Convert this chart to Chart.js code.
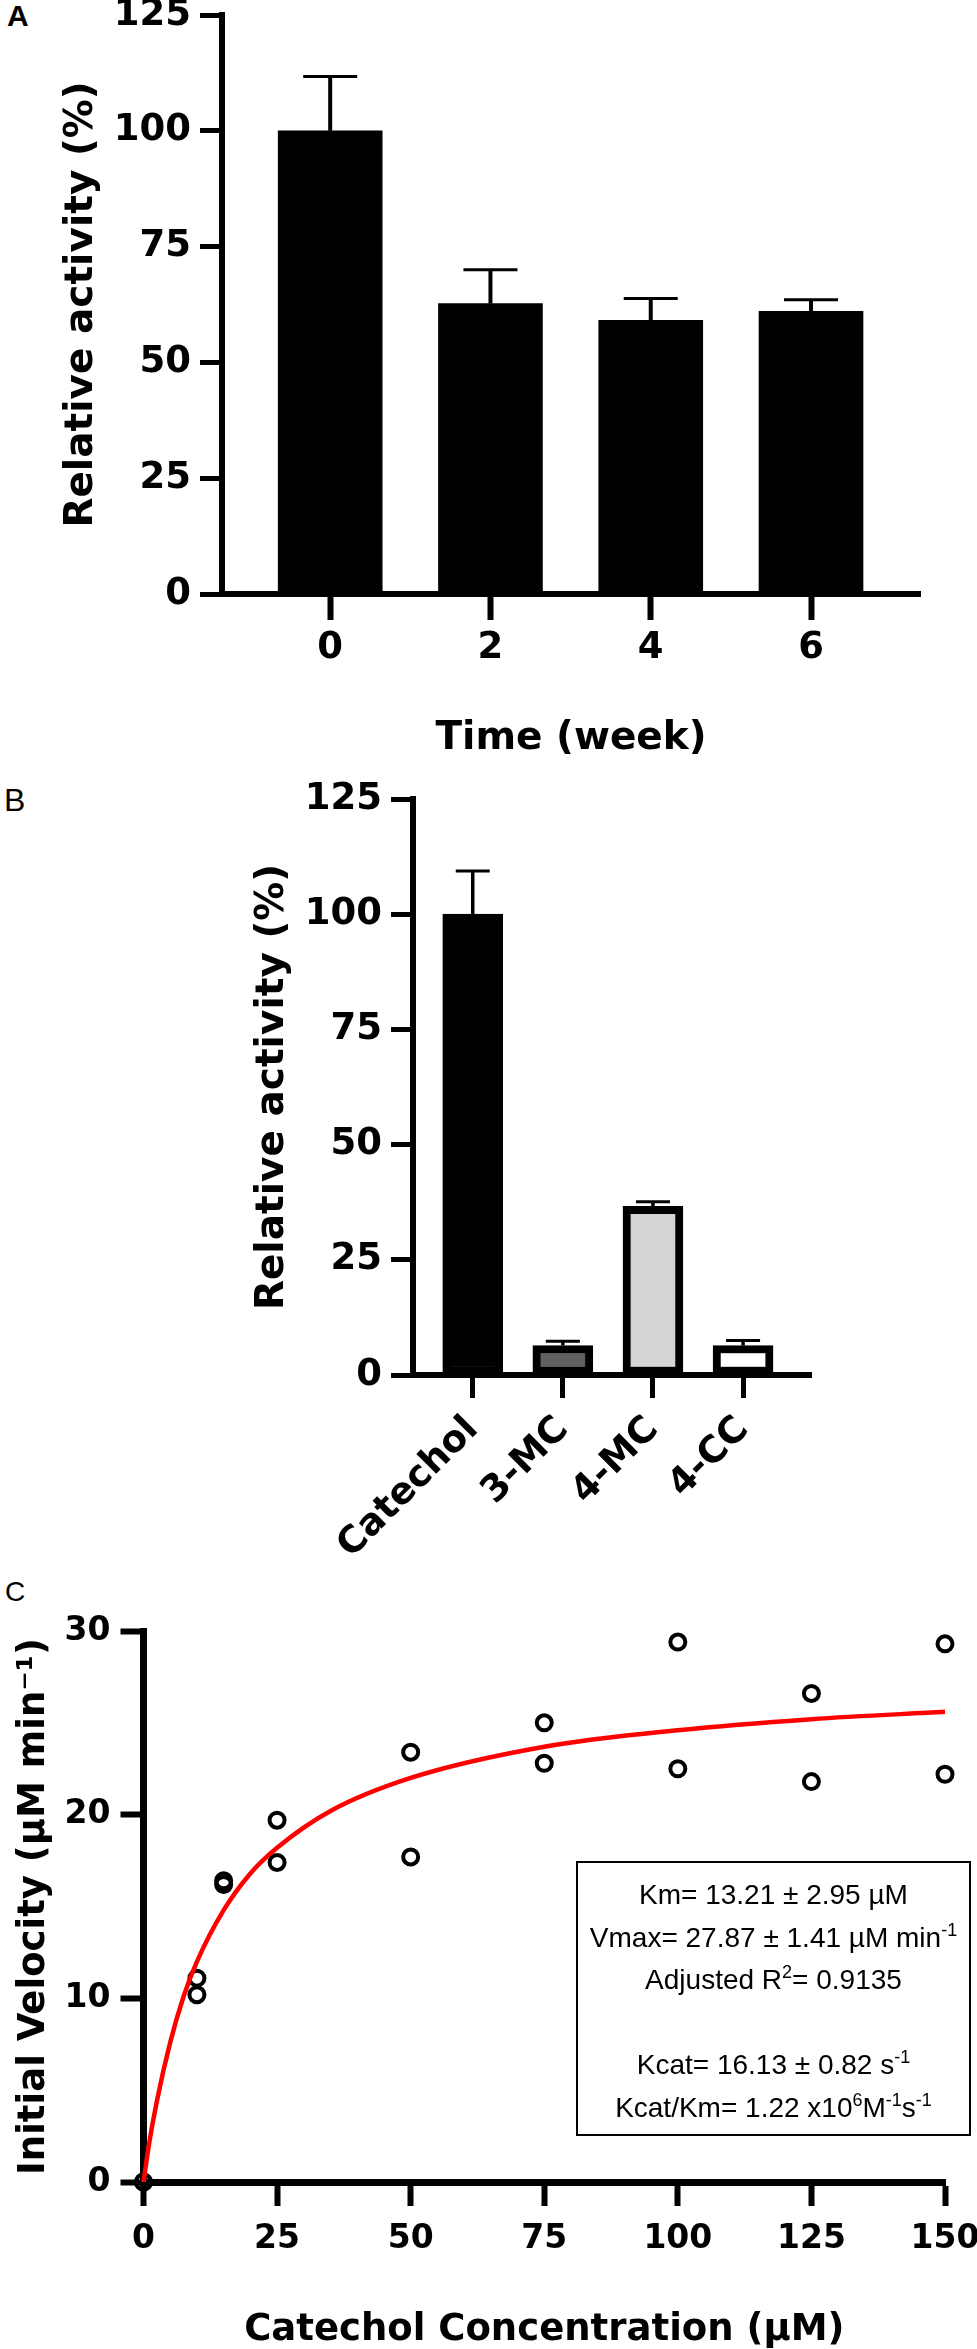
<!DOCTYPE html>
<html>
<head>
<meta charset="utf-8">
<script src="https://cdn.jsdelivr.net/npm/chart.js@4.4.0/dist/chart.umd.min.js"></script>
<style>
html,body{margin:0;padding:0;background:#fff;}
body{width:977px;height:2349px;position:relative;overflow:hidden;}
canvas{position:absolute;left:0;}
.lbl{position:absolute;font-family:"Liberation Sans",Arial,sans-serif;color:#000;line-height:1;}
#box{position:absolute;left:576px;top:1861px;width:391px;height:271px;border:2px solid #000;
  font-family:"Liberation Sans",Arial,sans-serif;font-size:28px;color:#000;text-align:center;
  line-height:42.5px;padding-top:11px;box-sizing:content-box;}
#box div{height:42.5px;white-space:nowrap;}
#box sup{font-size:18px;line-height:0;vertical-align:11px;}
</style>
</head>
<body>
<div class="lbl" style="left:7px;top:1px;font-size:30px;font-weight:bold">A</div>
<div class="lbl" style="left:4px;top:784px;font-size:32px;">B</div>
<div class="lbl" style="left:5px;top:1578px;font-size:28px;">C</div>
<canvas id="cA" width="977" height="780" style="top:0px;width:977px;height:780px"></canvas>
<canvas id="cB" width="977" height="800" style="top:780px;width:977px;height:800px"></canvas>
<canvas id="cC" width="977" height="779" style="top:1570px;width:977px;height:779px"></canvas>
<div id="box" style="height:260px">
  <div>Km= 13.21 &plusmn; 2.95 &micro;M</div>
  <div>Vmax= 27.87 &plusmn; 1.41 &micro;M min<sup>-1</sup></div>
  <div>Adjusted R<sup>2</sup>= 0.9135</div>
  <div>&nbsp;</div>
  <div>Kcat= 16.13 &plusmn; 0.82 s<sup>-1</sup></div>
  <div>Kcat/Km= 1.22 x10<sup>6</sup>M<sup>-1</sup>s<sup>-1</sup></div>
</div>
<script>
// ---------- DATA ----------
const weeks = [0, 2, 4, 6];
const stabilityMean = [100, 62.7, 59.1, 61.0];
const stabilityErr = [11.7, 7.3, 4.7, 2.5];

const substrates = ['Catechol', '3-MC', '4-MC', '4-CC'];
const substrateMean = [100, 6.4, 36.6, 6.4];
const substrateErr = [9.4, 0.9, 1.0, 1.1];
const substrateFill = ['#000000', '#606060', '#d4d4d4', '#ffffff'];

const concX = [0, 0, 10, 10, 15, 15, 25, 25, 50, 50, 75, 75, 100, 100, 125, 125, 150, 150];
const velocity = [0, 0, 11.1, 10.2, 16.4, 16.2, 19.7, 17.4, 23.4, 17.7, 25.0, 22.8, 29.4, 22.5, 26.6, 21.8, 29.3, 22.2];

const fitX = [0, 1, 2.5, 5, 7.5, 10, 15, 20, 25, 35, 50, 75, 100, 125, 150];
const fitY = [0, 2.0, 4.4, 7.6, 10.1, 12.0, 14.8, 16.8, 18.2, 20.2, 22.0, 23.7, 24.6, 25.2, 25.6];

const yTicksAB = [0, 25, 50, 75, 100, 125];
const xTicksC = [0, 25, 50, 75, 100, 125, 150];
const yTicksC = [0, 10, 20, 30];

// ---------- helpers ----------
const FAM = "'DejaVu Sans', 'Liberation Sans', Arial, sans-serif";
const bold = (size, lh) => ({family: FAM, weight: 'bold', size: size, lineHeight: lh || 1.2});

const errorBarPlugin = {
  id: 'errbars',
  afterDatasetsDraw(chart, args, opts) {
    const meta = chart.getDatasetMeta(0);
    const ys = chart.scales.y;
    const ctx = chart.ctx;
    const data = chart.data.datasets[0].data;
    ctx.save();
    ctx.strokeStyle = '#000';
    ctx.lineCap = 'butt';
    meta.data.forEach((el, i) => {
      const v = data[i].y;
      const top = ys.getPixelForValue(v);
      const e = ys.getPixelForValue(v + opts.errors[i]);
      ctx.lineWidth = opts.stemWidth;
      ctx.beginPath(); ctx.moveTo(el.x, top); ctx.lineTo(el.x, e); ctx.stroke();
      ctx.lineWidth = opts.capWidth;
      ctx.beginPath(); ctx.moveTo(el.x - opts.capLen / 2, e); ctx.lineTo(el.x + opts.capLen / 2, e); ctx.stroke();
    });
    ctx.restore();
  }
};

function setTicks(values) {
  return (ax) => { ax.ticks = values.map(v => ({value: v})); };
}
function fixH(h) {
  return (ax) => { ax.height = h; ax.paddingLeft = 0; ax.paddingRight = 0; ax.paddingTop = 0; ax.paddingBottom = 0; };
}
function fixW(w) {
  return (ax) => { ax.width = w; ax.paddingLeft = 0; ax.paddingRight = 0; ax.paddingTop = 0; ax.paddingBottom = 0; };
}
const common = {
  responsive: false,
  maintainAspectRatio: false,
  animation: false,
  devicePixelRatio: 1,
  events: [],
};

// ---------- Panel A ----------
new Chart(document.getElementById('cA'), {
  type: 'bar',
  data: {
    datasets: [{
      data: weeks.map((w, i) => ({x: w, y: stabilityMean[i]})),
      backgroundColor: '#000',
      borderWidth: 0,
      barThickness: 104
    }]
  },
  plugins: [errorBarPlugin],
  options: Object.assign({}, common, {
    layout: {autoPadding: false, padding: {left: 0, top: 15, right: 57, bottom: 0}},
    plugins: {
      legend: {display: false}, tooltip: {enabled: false},
      errbars: {errors: stabilityErr, stemWidth: 4, capWidth: 3, capLen: 54}
    },
    scales: {
      x: {
        type: 'linear', min: -1.35, max: 7.36, offset: false,
        grid: {display: true, drawOnChartArea: false, drawTicks: true, tickLength: 26, tickWidth: 6, tickColor: '#000', offset: false},
        border: {display: true, color: '#000', width: 6},
        ticks: {font: bold(37), color: '#000', padding: 6, minRotation: 0, maxRotation: 0, autoSkip: false},
        afterBuildTicks: setTicks(weeks),
        afterFit: fixH(186),
        title: {display: true, text: 'Time (week)', font: bold(39), color: '#000', padding: {top: 0, bottom: 18}}
      },
      y: {
        type: 'linear', min: 0, max: 125,
        grid: {display: true, drawOnChartArea: false, drawTicks: true, tickLength: 22, tickWidth: 5, tickColor: '#000'},
        border: {display: true, color: '#000', width: 6},
        ticks: {font: bold(37), color: '#000', padding: 9},
        afterBuildTicks: setTicks(yTicksAB),
        afterFit: fixW(222),
        title: {display: true, text: 'Relative activity (%)', font: bold(39), color: '#000', padding: {top: 58, bottom: 0}}
      }
    }
  })
});

// ---------- Panel B ----------
new Chart(document.getElementById('cB'), {
  type: 'bar',
  data: {
    datasets: [{
      data: substrates.map((s, i) => ({x: i, y: substrateMean[i]})),
      backgroundColor: substrateFill,
      borderColor: '#000',
      borderWidth: 8,
      borderSkipped: false,
      barThickness: 60
    }]
  },
  plugins: [errorBarPlugin],
  options: Object.assign({}, common, {
    layout: {autoPadding: false, padding: {left: 0, top: 19, right: 166, bottom: 0}},
    plugins: {
      legend: {display: false}, tooltip: {enabled: false},
      errbars: {errors: substrateErr, stemWidth: 3.5, capWidth: 3, capLen: 34}
    },
    scales: {
      x: {
        type: 'linear', min: -0.663, max: 3.754, offset: false,
        grid: {display: true, drawOnChartArea: false, drawTicks: true, tickLength: 23, tickWidth: 5, tickColor: '#000', offset: false},
        border: {display: true, color: '#000', width: 6},
        ticks: {font: bold(37), color: '#000', padding: 10, minRotation: 45, maxRotation: 45, autoSkip: false,
          callback: (v) => substrates[v]},
        afterBuildTicks: setTicks([0, 1, 2, 3]),
        afterFit: fixH(205)
      },
      y: {
        type: 'linear', min: 0, max: 125,
        grid: {display: true, drawOnChartArea: false, drawTicks: true, tickLength: 22, tickWidth: 5, tickColor: '#000'},
        border: {display: true, color: '#000', width: 6},
        ticks: {font: bold(37), color: '#000', padding: 9},
        afterBuildTicks: setTicks(yTicksAB),
        afterFit: fixW(413),
        title: {display: true, text: 'Relative activity (%)', font: bold(39), color: '#000', padding: {top: 249, bottom: 0}}
      }
    }
  })
});

// ---------- Panel C ----------
new Chart(document.getElementById('cC'), {
  type: 'scatter',
  data: {
    datasets: [
      {
        data: fitX.map((x, i) => ({x: x, y: fitY[i]})),
        showLine: true,
        borderColor: '#ff0000',
        borderWidth: 4.5,
        pointRadius: 0,
        fill: false,
        cubicInterpolationMode: 'monotone',
        clip: false
      },
      {
        data: concX.map((x, i) => ({x: x, y: velocity[i]})),
        showLine: false,
        pointStyle: 'circle',
        pointRadius: 7.5,
        pointBorderWidth: 4,
        pointBorderColor: '#000',
        pointBackgroundColor: 'rgba(0,0,0,0)',
        clip: false
      }
    ]
  },
  options: Object.assign({}, common, {
    layout: {autoPadding: false, padding: {left: 0, top: 61, right: 32, bottom: 0}},
    plugins: {legend: {display: false}, tooltip: {enabled: false}},
    scales: {
      x: {
        type: 'linear', min: 0, max: 150, offset: false,
        grid: {display: true, drawOnChartArea: false, drawTicks: true, tickLength: 24, tickWidth: 6, tickColor: '#000'},
        border: {display: true, color: '#000', width: 7},
        ticks: {font: bold(33), color: '#000', padding: 14, minRotation: 0, maxRotation: 0, autoSkip: false},
        afterBuildTicks: setTicks(xTicksC),
        afterFit: fixH(167),
        title: {display: true, text: 'Catechol Concentration (\u00b5M)', font: bold(37, 1.0), color: '#000', padding: {top: 0, bottom: 0}}
      },
      y: {
        type: 'linear', min: 0, max: 30,
        grid: {display: true, drawOnChartArea: false, drawTicks: true, tickLength: 23, tickWidth: 6, tickColor: '#000'},
        border: {display: true, color: '#000', width: 7},
        ticks: {font: bold(33), color: '#000', padding: 10},
        afterBuildTicks: setTicks(yTicksC),
        afterFit: fixW(143.5),
        title: {display: true, text: 'Initial Velocity (\u00b5M min\u207b\u00b9)', font: bold(37), color: '#000', padding: {top: 12, bottom: 0}}
      }
    }
  })
});
</script>
</body>
</html>
